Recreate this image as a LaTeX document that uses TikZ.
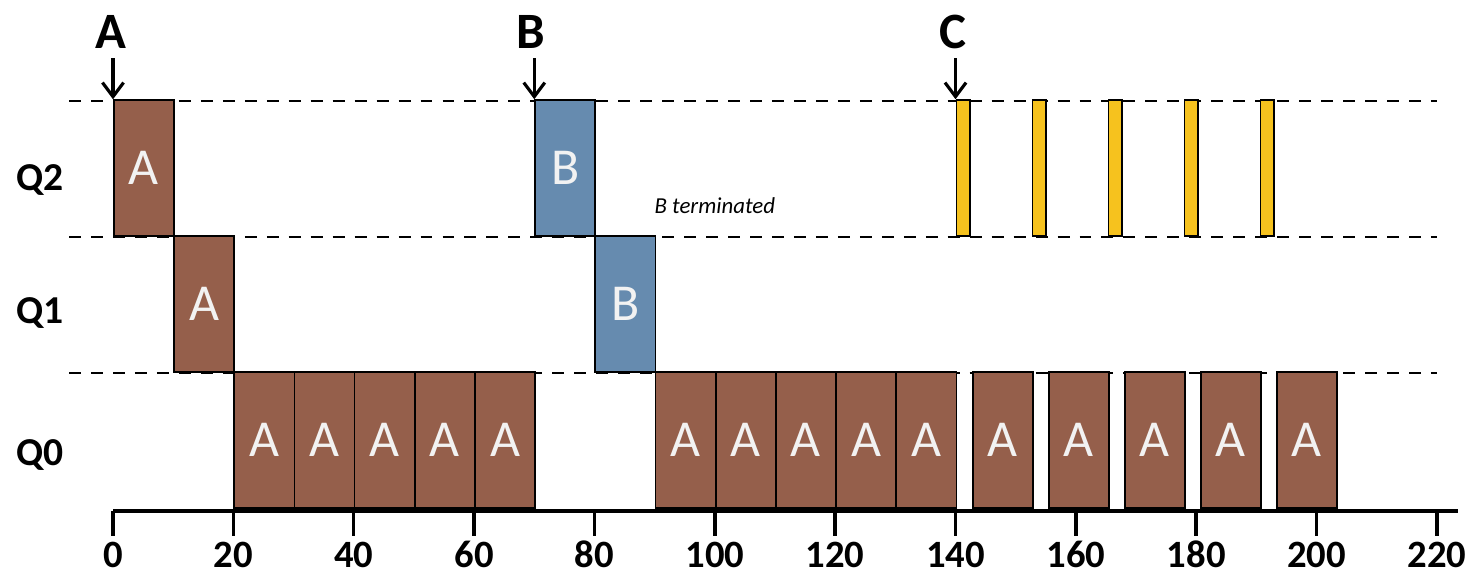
\documentclass[tikz,border=0pt]{standalone}
\usepackage{fontspec}
\setmainfont{Carlito}
\usetikzlibrary{arrows.meta}

\definecolor{jobA}{HTML}{955F4B}
\definecolor{jobB}{HTML}{668BAF}
\definecolor{jobC}{HTML}{F6C21E}
\definecolor{jobtext}{HTML}{F2F2F2}

\begin{document}
\begin{tikzpicture}[x=0.12036cm,y=0.02cm,
    job/.style={draw,line width=1pt,anchor=south west,inner sep=0pt,
                minimum width=1.2036cm,minimum height=2.72cm,
                text=jobtext,font=\fontsize{29.5}{30}\selectfont},
    ajob/.style={job,fill=jobA},
    bjob/.style={job,fill=jobB},
    cjob/.style={job,fill=jobC,minimum width=0.277cm},
    queue/.style={anchor=base west,inner sep=0pt,font=\fontsize{22.5}{24}\selectfont\bfseries},
    arrival/.style={anchor=base,inner sep=0pt,font=\fontsize{29}{30}\selectfont\bfseries},
    arrive/.style={-{Straight Barb[length=8pt,width=12pt]},line width=1.8pt,shorten <=5pt},
    level/.style={dash pattern=on 6.8pt off 5.7pt,line width=1.6pt},
    axisline/.style={line width=2pt},
    ticklabel/.style={anchor=base,inner sep=0pt,font=\fontsize{22}{23}\selectfont\bfseries}]

  \useasboundingbox (-18.78,-69) rectangle (226.82,511);

  % queue levels
  \foreach \y in {138,274,410}
    \draw[level] (-7.3,\y) -- (220,\y);

  \node[queue] (q2) at (-16.1,321) {Q2};
  \node[queue] (q1) at (-16.1,188) {Q1};
  \node[queue] (q0) at (-16.1,46) {Q0};

  % job A and job B
  \node[ajob] (a2) at (0,274) {A};
  \node[ajob] (a1) at (10,138) {A};
  \foreach \t in {20,30,...,60}
    \node[ajob] (a0-\t) at (\t,2) {A};
  \node[bjob] (b2) at (70,274) {B};
  \node[bjob] (b1) at (80,138) {B};
  \foreach \t in {90,100,...,130}
    \node[ajob] (a0-\t) at (\t,2) {A};

  % job C shares the cpu with A
  \foreach \k in {0,...,4} {
    \node[cjob] (c\k) at ({140+12.63*\k},274) {};
    \node[ajob] (ac\k) at ({142.7+12.63*\k},2) {A};
  }

  \node[anchor=base,inner sep=0pt,font=\fontsize{13}{14}\selectfont\itshape] (bterm) at (100,298) {B terminated};

  % arrivals
  \node[arrival] (arrA) at (-0.4,462) {A};
  \node[arrival] (arrB) at (69.5,462) {B};
  \node[arrival] (arrC) at (139.6,462) {C};
  \draw[arrive] (arrA.south -| a2.north west) -- (a2.north west);
  \draw[arrive] (arrB.south -| b2.north west) -- (b2.north west);
  \draw[arrive] (arrC.south -| c0.north west) -- (c0.north west);

  % time axis
  \draw[axisline] (0,0) -- (223.5,0);
  \foreach \t in {0,20,...,220} {
    \draw[axisline] (\t,0) -- (\t,-25);
    \node[ticklabel] (t\t) at (\t,-56) {\t};
  }
\end{tikzpicture}
\end{document}
